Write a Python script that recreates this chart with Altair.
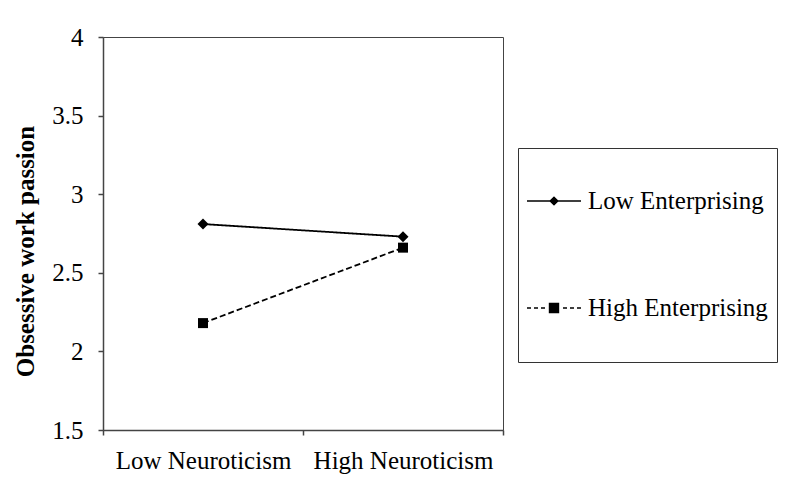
import altair as alt
import pandas as pd

# ---- data ----
categories = ["Low Neuroticism", "High Neuroticism"]
series = ["Low Enterprising", "High Enterprising"]
low_ent = [2.81, 2.73]
high_ent = [2.18, 2.66]
y_ticks = [1.5, 2, 2.5, 3, 3.5, 4]

rows = []
for s, vals in zip(series, [low_ent, high_ent]):
    for c, v in zip(categories, vals):
        rows.append({"neuro": c, "series": s, "value": v})
df = pd.DataFrame(rows)

cat_list = "[" + ",".join(f"'{c}'" for c in categories) + "]"
label_expr = " : ".join(
    f"datum.value == {i + 0.5} ? '{c}'" for i, c in enumerate(categories)
) + " : ''"
x_vals = sorted([float(i) for i in range(len(categories) + 1)] +
                [i + 0.5 for i in range(len(categories))])

FONT = "Liberation Serif"

# ---- legend symbol glyphs (line + marker), drawn with strokes only ----
SYM_SIZE = 7480                      # legend entry box ~88 px
K = SYM_SIZE ** 0.5 / 2              # px per path unit
CX = 44                              # symbol centre inside the entry (px)
EXT = 41.2                           # invisible vertical extent (px)


def u(v):
    return round(v / K, 4)


def seg(x0, x1, y=0.0):
    return f"M{u(x0 - CX)},{u(y)}L{u(x1 - CX)},{u(y)}"


def pad():
    return f"M0,{u(-EXT)}M0,{u(EXT)}"


def diamond(xc, r):
    out = ""
    steps = int(r * 2)
    for i in range(steps + 1):
        y = -r + i * (2 * r / steps)
        hw = r - abs(y)
        if hw > 0.2:
            out += seg(xc - hw, xc + hw, y)
    return out


def square(xc, r):
    out = ""
    steps = int(r * 2)
    for i in range(steps + 1):
        y = -r + 0.6 + i * ((2 * r - 1.2) / steps)
        out += seg(xc - r, xc + r, y)
    return out


path_low = pad() + seg(0, 54) + diamond(27, 4.6)
path_high = (pad() + seg(0, 4) + seg(7, 11) + seg(14, 18) +
             seg(36, 40) + seg(43, 47) + seg(50, 54) + square(27, 5.2))

base = alt.Chart(df).transform_calculate(
    xi=f"indexof({cat_list}, datum.neuro) + 0.5"
)

x_enc = alt.X(
    "xi:Q",
    scale=alt.Scale(domain=[0, len(categories)], nice=False, zero=False),
    axis=alt.Axis(
        values=x_vals,
        labelExpr=label_expr,
        title=None,
        grid=False,
        tickSize=5,
        labelPadding=13,
        tickOpacity={"condition": {"test": "datum.value % 1 === 0", "value": 1}, "value": 0},
        labelFontSize=25,
    ),
)
y_enc = alt.Y(
    "value:Q",
    scale=alt.Scale(domain=[1.5, 4], nice=False, zero=False),
    axis=alt.Axis(
        values=y_ticks,
        format="~g",
        title="Obsessive work passion",
        titleFontWeight="bold",
        titleFontSize=25,
        titlePadding=13,
        titleY=214,
        grid=False,
        tickSize=5,
        labelPadding=15,
        labelFontSize=25,
    ),
)

lines = base.mark_line(color="black", strokeWidth=1.8).encode(
    x=x_enc,
    y=y_enc,
    strokeDash=alt.StrokeDash(
        "series:N",
        scale=alt.Scale(domain=series, range=[[1, 0], [6, 3]]),
        legend=None,
    ),
)

points = base.mark_point(filled=True, color="black", opacity=1).encode(
    x=x_enc,
    y=y_enc,
    shape=alt.Shape("series:N", scale=alt.Scale(domain=series, range=["diamond", "square"]), legend=None),
    size=alt.Size("series:N", scale=alt.Scale(domain=series, range=[121, 100]), legend=None),
)

legend_layer = base.mark_point(
    filled=False, color="black", strokeWidth=1.5, opacity=0, size=SYM_SIZE
).encode(
    x=x_enc,
    y=y_enc,
    shape=alt.Shape(
        "series:N",
        scale=alt.Scale(domain=series, range=[path_low, path_high]),
        legend=alt.Legend(
            title=None,
            orient="none",
            legendX=415,
            legendY=111,
            strokeColor="#333",
            fillColor="white",
            padding=9,
            rowPadding=17,
            labelFont=FONT,
            labelFontSize=25,
            labelColor="black",
            labelLimit=400,
            labelOffset={"expr": "-27"},
            symbolSize=SYM_SIZE,
            symbolStrokeWidth=1.5,
            symbolOpacity=1,
            symbolStrokeColor="black",
        ),
    ),
)

chart = (
    alt.layer(lines, points, legend_layer)
    .resolve_scale(shape="independent")
    .properties(
        width=400,
        height=393,
        autosize=alt.AutoSizeParams(type="none"),
        padding={"left": 95, "top": 29, "right": 280, "bottom": 60},
    )
    .configure_view(stroke="#444", strokeWidth=1)
    .configure_axis(
        labelFont=FONT,
        titleFont=FONT,
        labelColor="black",
        titleColor="black",
        domainColor="#444",
        domainWidth=1.5,
        tickColor="#444",
        tickWidth=1.5,
    )
    .configure_legend(labelFont=FONT)
)

chart.save("out.html", embed_options={"renderer": "svg", "actions": False})
